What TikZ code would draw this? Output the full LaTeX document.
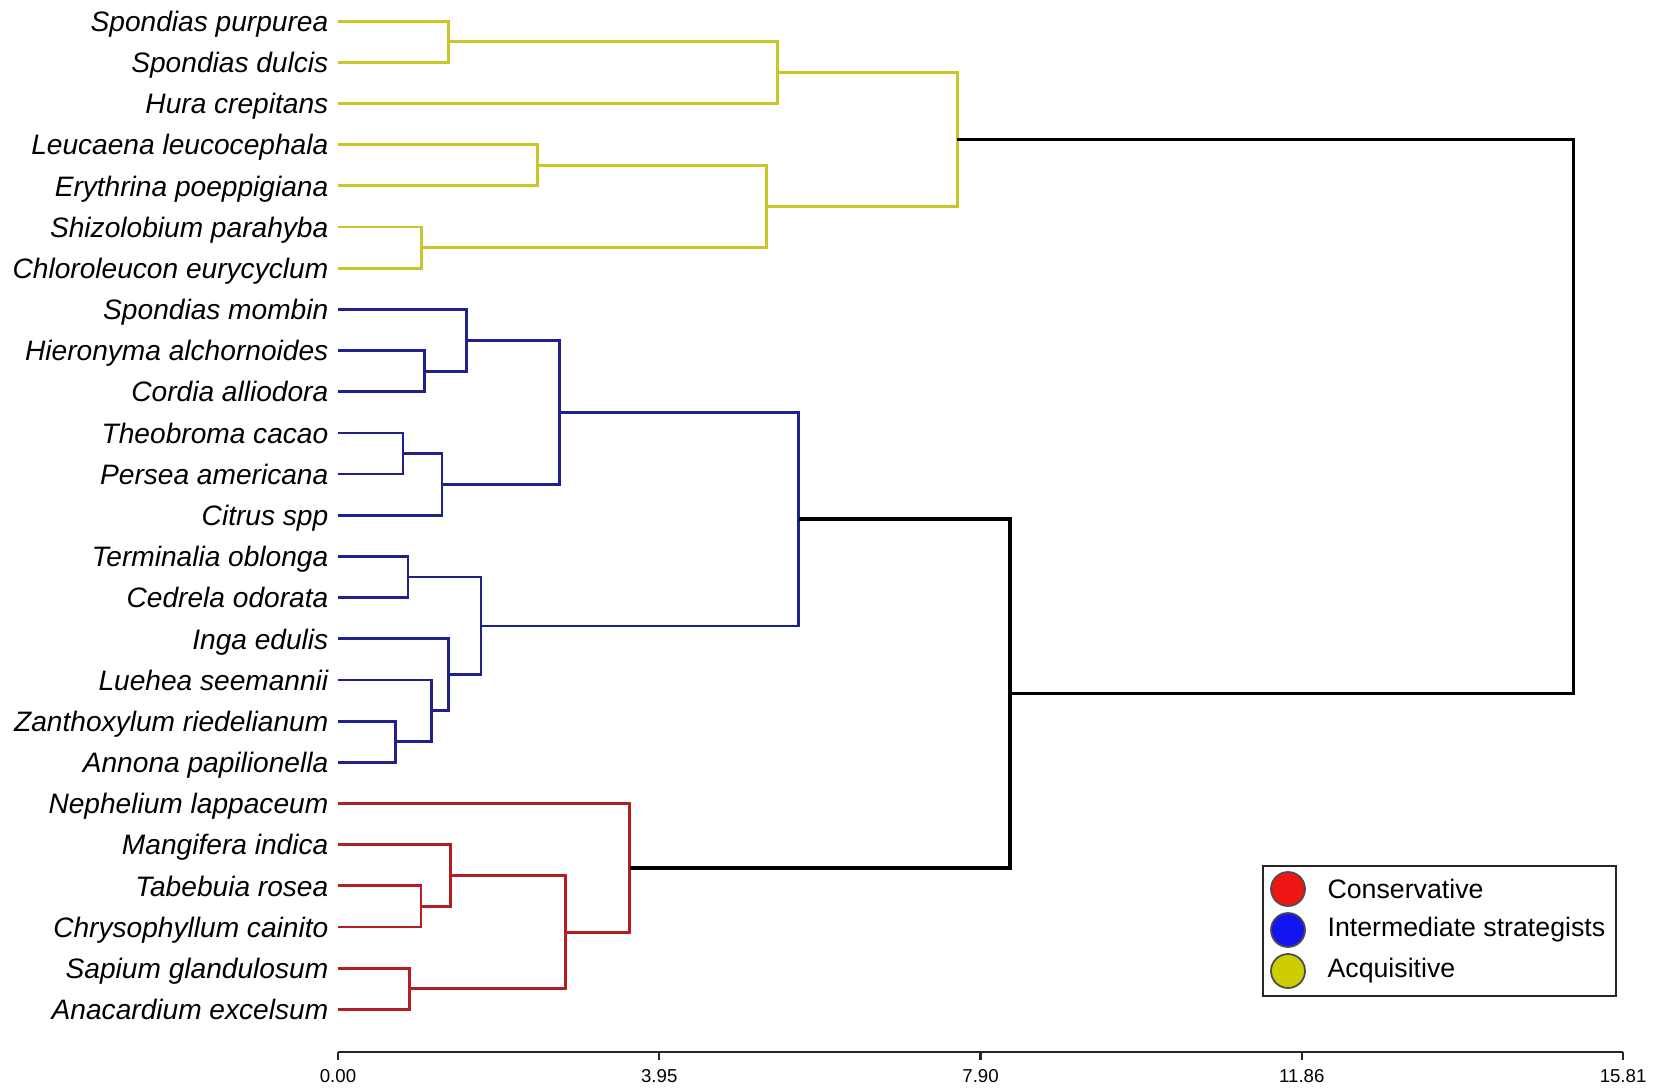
\documentclass[tikz,border=0pt]{standalone}
\usepackage{fontspec}
\setmainfont{Liberation Sans}
\usetikzlibrary{calc,positioning}

\definecolor{acqline}{RGB}{200,198,40}
\definecolor{intline}{RGB}{32,32,140}
\definecolor{conline}{RGB}{180,30,34}
\definecolor{acqfill}{RGB}{205,205,0}
\definecolor{intfill}{RGB}{20,20,240}
\definecolor{confill}{RGB}{240,20,20}

% join two branches at a given distance
\newcommand{\mergepair}[5]{%
  \path let \p1=(#2), \p2=(#3) in ({3.38cm+#4*0.8128cm},{(\y1+\y2)/2}) coordinate (#1);
  \draw[#5] (#2) -| (#1) |- (#3);
}

\begin{document}
\begin{tikzpicture}[
    leaf/.style={anchor=base east,inner sep=0pt,font=\fontsize{8}{9}\selectfont\itshape},
    acq/.style={acqline,line width=0.8pt},
    int/.style={intline,line width=0.8pt},
    con/.style={conline,line width=0.8pt},
    root/.style={black,line width=1pt},
    dot/.style={circle,draw=black!70,line width=0.5pt,minimum size=0.34cm,inner sep=0pt},
    legtext/.style={anchor=west,inner sep=0pt,font=\fontsize{7.6}{9}\selectfont},
    ticklabel/.style={anchor=north,inner sep=0pt,font=\fontsize{5.3}{6}\selectfont}]
                            \useasboundingbox (0,0) rectangle (16.54,-10.91);

                            \foreach \name/\txt [count=\i from 0] in {
                                spur/Spondias purpurea, sdul/Spondias dulcis, hcre/Hura crepitans,
                                lleu/Leucaena leucocephala, epoe/Erythrina poeppigiana,
                                spar/Shizolobium parahyba, ceur/Chloroleucon eurycyclum,
                                smom/Spondias mombin, halc/Hieronyma alchornoides,
                                call/Cordia alliodora, tcac/Theobroma cacao,
                                pame/Persea americana, cspp/Citrus spp,
                                tobl/Terminalia oblonga, codo/Cedrela odorata,
                                iedu/Inga edulis, lsee/Luehea seemannii,
                                zrie/Zanthoxylum riedelianum, apap/Annona papilionella,
                                nlap/Nephelium lappaceum, mind/Mangifera indica,
                                tros/Tabebuia rosea, ccai/Chrysophyllum cainito,
                                sgla/Sapium glandulosum, aexc/Anacardium excelsum}
                            {
                                \coordinate (\name) at (3.38,{-0.211-0.4118*\i});
                                \node[leaf] (\name-l) at ([xshift=-0.09cm,yshift=-2.9pt]\name) {\txt};
                            }

                            % acquisitive
                            \mergepair{y1}{spur}{sdul}{1.36}{acq}
                            \mergepair{y2}{y1}{hcre}{5.41}{acq}
                            \mergepair{y3}{lleu}{epoe}{2.45}{acq}
                            \mergepair{y4}{spar}{ceur}{1.03}{acq}
                            \mergepair{y5}{y3}{y4}{5.27}{acq}
                            \mergepair{y6}{y2}{y5}{7.62}{acq}
                            % intermediate
                            \mergepair{b1}{halc}{call}{1.06}{int}
                            \mergepair{b2}{smom}{b1}{1.58}{int}
                            \mergepair{b3}{tcac}{pame}{0.80}{int}
                            \mergepair{b4}{b3}{cspp}{1.28}{int}
                            \mergepair{b5}{b2}{b4}{2.73}{int}
                            \mergepair{b6}{tobl}{codo}{0.86}{int}
                            \mergepair{b7}{zrie}{apap}{0.71}{int}
                            \mergepair{b8}{lsee}{b7}{1.15}{int}
                            \mergepair{b9}{iedu}{b8}{1.36}{int}
                            \mergepair{b10}{b6}{b9}{1.76}{int}
                            \mergepair{b11}{b5}{b10}{5.67}{int}
                            % conservative
                            \mergepair{r1}{tros}{ccai}{1.02}{con}
                            \mergepair{r2}{mind}{r1}{1.38}{con}
                            \mergepair{r3}{sgla}{aexc}{0.88}{con}
                            \mergepair{r4}{r2}{r3}{2.80}{con}
                            \mergepair{r5}{nlap}{r4}{3.59}{con}
                            % between groups
                            \mergepair{k1}{b11}{r5}{8.27}{root}
                            \mergepair{k2}{y6}{k1}{15.20}{root}

                            % distance axis
                            \coordinate (ax0) at (3.38,-10.52);
                            \coordinate (ax1) at (16.23,-10.52);
                            \draw[black!85,line width=0.6pt] (ax0) -- (ax1);
                            \foreach \v/\t [count=\j] in {0/0.00,3.9525/3.95,7.905/7.90,11.8575/11.86,15.81/15.81} {
                                \coordinate (tick\j) at ({3.38+0.8128*\v},-10.52);
                                \draw[black!85,line width=0.6pt] (tick\j) -- ++(0,-0.08) coordinate (tickend\j);
                                \node[ticklabel] (ticklab\j) at ([yshift=-0.09cm]tickend\j) {\t};
                            }

                            % legend
                            \node[draw=black!85,line width=0.6pt,minimum width=3.53cm,minimum height=1.30cm,inner sep=0pt] (legend) at (14.395,-9.31) {};
                            \node[dot,fill=confill] (dcon) at (12.88,-8.89) {};
                            \node[dot,fill=intfill] (dint) at (12.88,-9.30) {};
                            \node[dot,fill=acqfill] (dacq) at (12.88,-9.71) {};
                            \node[legtext,right=0.21cm of dcon] (tcon) {Conservative};
                            \node[legtext,right=0.21cm of dint] (tint) {Intermediate strategists};
                            \node[legtext,right=0.21cm of dacq] (tacq) {Acquisitive};
                        \end{tikzpicture}
\end{document}
